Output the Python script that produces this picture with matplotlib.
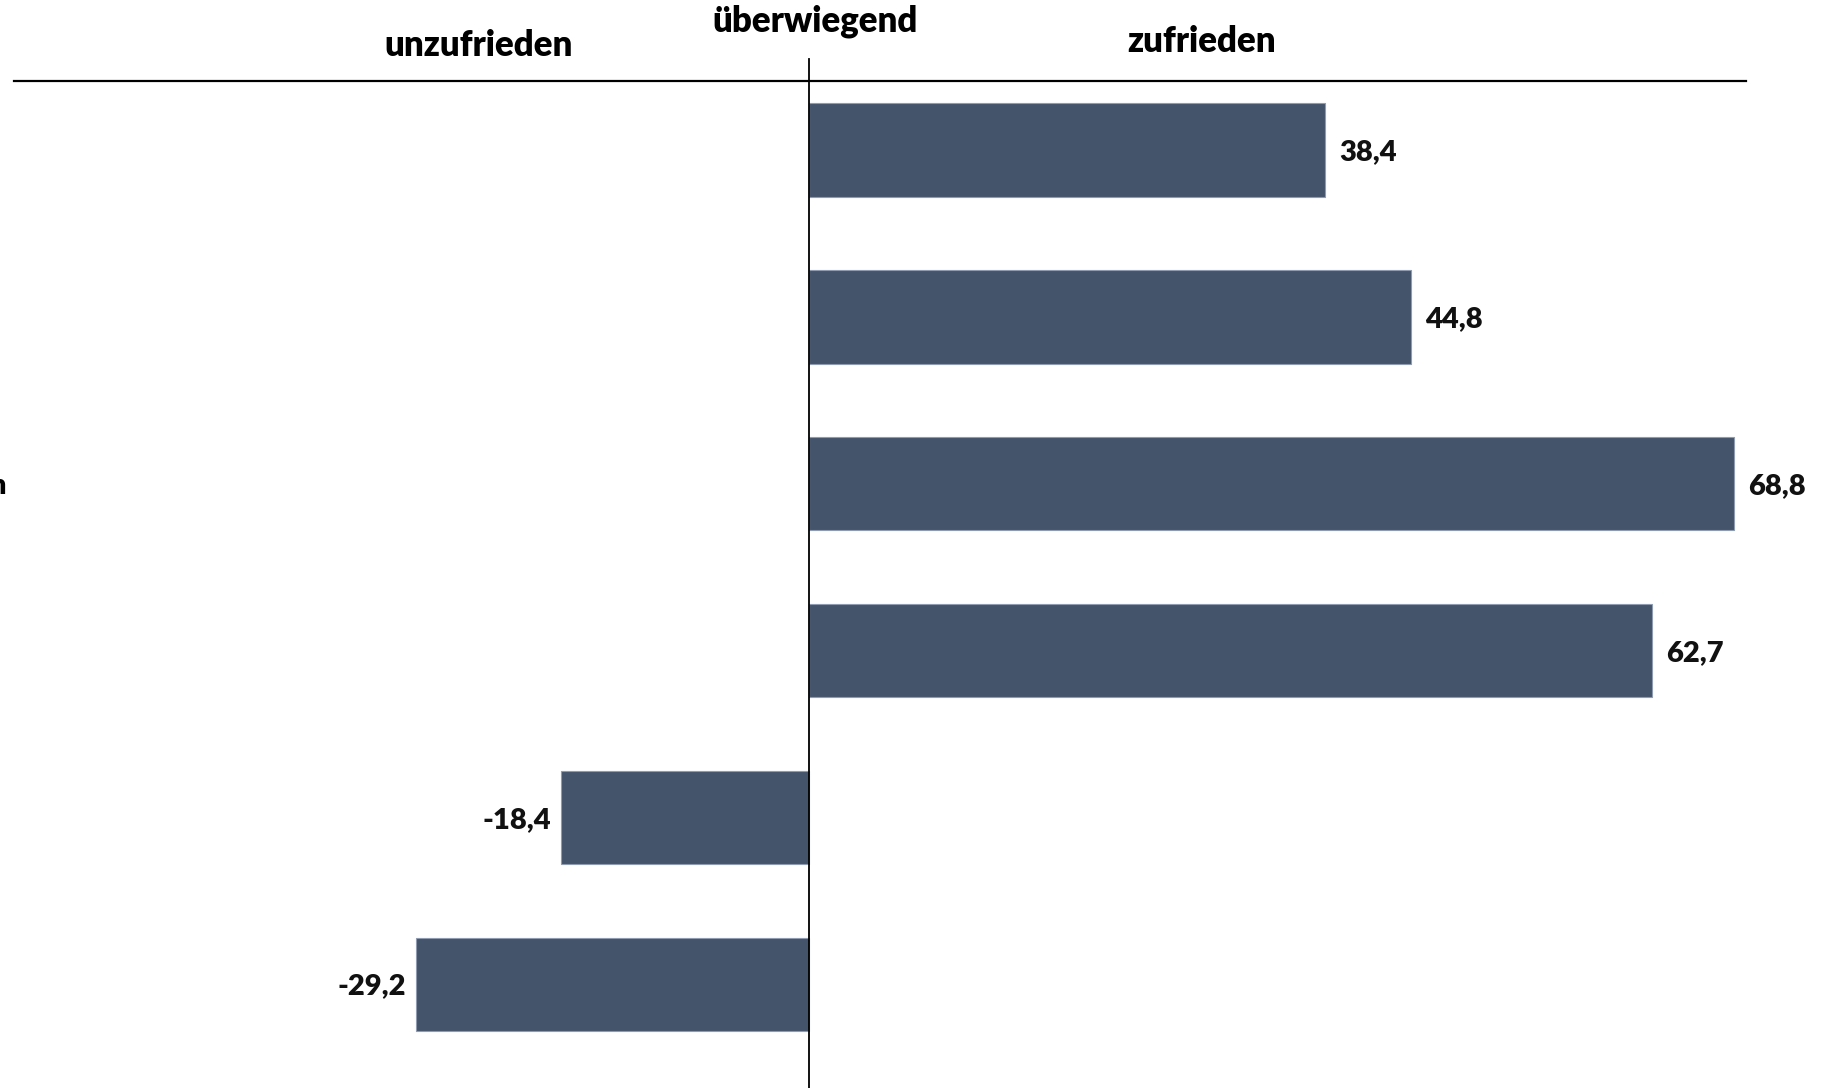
import matplotlib
matplotlib.use("Agg")
import matplotlib.pyplot as plt

# Werte (Saldo zufrieden minus unzufrieden), von oben nach unten
werte = [38.4, 44.8, 68.8, 62.7, -18.4, -29.2]
beschriftung = ["38,4", "44,8", "68,8", "62,7", "-18,4", "-29,2"]
kopf_links = "unzufrieden"
kopf_mitte = "überwiegend"
kopf_rechts = "zufrieden"

BALKEN = "#44546a"
RAND = "#8e9bb0"

plt.rcParams["font.family"] = ["Lato", "DejaVu Sans"]

fig = plt.figure(figsize=(18.32, 10.88), dpi=100)
W, H = 1832, 1088
links, rechts, oben = 14, 1746, 80.6
ax = fig.add_axes((links / W, 0, (rechts - links) / W, 1 - oben / H))

pos = list(range(len(werte)))
ax.barh(pos, werte, height=0.56, color=BALKEN, edgecolor=RAND, linewidth=0.8, zorder=2)

ax.set_xlim(-59.07, 69.7)
ax.set_ylim(5.62, -0.415)

for y, v, t in zip(pos, werte, beschriftung):
    if v >= 0:
        ax.annotate(t, (v, y), xytext=(10, -1.5), textcoords="offset points",
                    ha="left", va="center", fontsize=21, fontweight="heavy",
                    color="#111111", clip_on=False)
    else:
        ax.annotate(t, (v, y), xytext=(-7, -1.5), textcoords="offset points",
                    ha="right", va="center", fontsize=21, fontweight="heavy",
                    color="#111111", clip_on=False)

# Nulllinie, ragt etwas über die Kopflinie hinaus
ax.axvline(0, ymin=0, ymax=1 + 22 / (H - oben), color="black", lw=1.3,
           clip_on=False, zorder=3)

for s in ["left", "right", "bottom"]:
    ax.spines[s].set_visible(False)
ax.spines["top"].set_linewidth(1.6)
ax.set_xticks([])
ax.set_yticks([])

# Kopfzeile
kopf = dict(ha="center", va="center", fontsize=25, fontweight="heavy")
fig.text(479 / W, 1 - 45 / H, kopf_links, **kopf)
fig.text(815.5 / W, 1 - 21 / H, kopf_mitte, **kopf)
fig.text(1202 / W, 1 - 42 / H, kopf_rechts, **kopf)

# abgeschnittene Kategorienbeschriftung am linken Rand
fig.text(6 / W, 1 - 486 / H, "n", ha="right", va="center",
         fontsize=21, fontweight="heavy")

fig.savefig("out.png", dpi=100, facecolor="white")
